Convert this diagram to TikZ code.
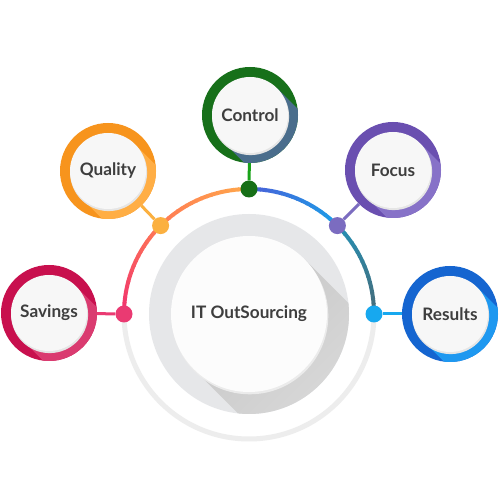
\documentclass[tikz,border=0pt]{standalone}
\usepackage{fontspec}
\setmainfont{Lato}
\usetikzlibrary{calc}
\definecolor{savD}{HTML}{C8104E}\definecolor{savL}{HTML}{DA3B70}
\definecolor{quaD}{HTML}{F7941D}\definecolor{quaL}{HTML}{FFAE45}
\definecolor{conD}{HTML}{17701A}\definecolor{conL}{HTML}{4A6D8C}
\definecolor{focD}{HTML}{6A4FB0}\definecolor{focL}{HTML}{8772C8}
\definecolor{resD}{HTML}{1565D0}\definecolor{resL}{HTML}{1E98F0}
\definecolor{savDot}{HTML}{EA3A72}\definecolor{quaDot}{HTML}{FBB040}
\definecolor{conDot}{HTML}{176F17}\definecolor{focDot}{HTML}{7B6CC0}
\definecolor{resDot}{HTML}{17A8EF}
\definecolor{conLine}{HTML}{19A319}
\definecolor{arcA}{HTML}{F0306E}\definecolor{arcB}{HTML}{FF7A55}
\definecolor{arcC}{HTML}{FFA84A}\definecolor{arcD}{HTML}{4A5FD8}
\definecolor{arcE}{HTML}{1AA0E8}\definecolor{arcF}{HTML}{2490B5}
\definecolor{arcG}{HTML}{476B78}
\definecolor{txt}{HTML}{3E3E3E}
\definecolor{ringGray}{HTML}{EDEDED}
\definecolor{discGray}{HTML}{E6E7E9}
\definecolor{innerW}{HTML}{F7F7F7}
\tikzset{
  sat/.style={circle, minimum size=96pt, inner sep=0pt},
  inner/.style={circle, minimum size=76pt, inner sep=0pt, fill=innerW, text=txt,
    font=\fontsize{17.2}{20}\selectfont\bfseries},
  dot/.style={circle, minimum size=17pt, inner sep=0pt},
  conn/.style={line width=3pt},
}
\newcommand{\satdecor}[2]{%
  \begin{scope}
    \clip (#1) circle (48);
    \fill[#2] ($(#1)+(45:38)$) -- ($(#1)+(225:38)$) -- ++(-45:130) -- ($(#1)+(45:38)+(-45:130)$) -- cycle;
  \end{scope}
  \fill[black!10] ($(#1)+(0.6,-1.6)$) circle (38.5);
}
\begin{document}
\begin{tikzpicture}[x=1pt,y=1pt]
\fill[white] (0,0) rectangle (500,500);
\useasboundingbox (0,0) rectangle (500,500);
\coordinate (C) at (249,186);
% lower gray ring
\draw[ringGray, line width=5pt] ([shift={(180:125)}]C) arc[start angle=180, end angle=360, radius=125];
% colored arc
\foreach \a/\b/\ca/\cb in {180/135/arcA/arcB, 135/90/arcB/arcC, 90/45/arcD/arcE, 45/0/arcF/arcG} {
  \foreach \i in {0,...,17} {
    \pgfmathsetmacro\s{\a+(\b-\a)*\i/18}
    \pgfmathsetmacro\e{\a+(\b-\a)*(\i+1)/18-0.4}
    \pgfmathtruncatemacro\p{100*(\i+0.5)/18}
    \draw[line width=4pt, draw=\cb!\p!\ca] ([shift={(\s:125)}]C) arc[start angle=\s, end angle=\e, radius=125];
  }
}
% center
\fill[discGray] (C) circle (100);
\begin{scope}
  \clip (C) circle (100);
  \shade[top color=black!22, bottom color=black!10, shading angle=45]
    ($(C)+(45:78)$) -- ($(C)+(225:78)$) -- ++(-45:200) -- ($(C)+(45:78)+(-45:200)$) -- cycle;
\end{scope}
\fill[black!8] ($(C)+(0.8,-1.8)$) circle (78.5);
\node[circle, minimum size=156pt, inner sep=0pt, fill=white!60!innerW, text=txt,
  font=\fontsize{17.2}{20}\selectfont\bfseries] (center) at (C) {IT OutSourcing};
% dots
\node[dot, fill=savDot] (dS) at ($(C)+(180:125)$) {};
\node[dot, fill=quaDot] (dQ) at ($(C)+(135:125)$) {};
\node[dot, fill=conDot] (dK) at ($(C)+(90:125)$) {};
\node[dot, fill=focDot] (dF) at ($(C)+(45:125)$) {};
\node[dot, fill=resDot] (dR) at ($(C)+(0:125)$) {};
% satellites
\node[sat, fill=savD] (S) at (49,187) {};
\node[sat, fill=quaD] (Q) at (108,329) {};
\node[sat, fill=conD] (K) at (250,385) {};
\node[sat, fill=focD] (F) at (393,330) {};
\node[sat, fill=resD] (R) at (450,186) {};
\satdecor{S}{savL}
\satdecor{Q}{quaL}
\satdecor{K}{conL}
\satdecor{F}{focL}
\satdecor{R}{resL}
\node[inner] (St) at (S) {Savings};
\node[inner] (Qt) at (Q) {Quality};
\node[inner] (Kt) at (K) {Control};
\node[inner] (Ft) at (F) {Focus};
\node[inner] (Rt) at (R) {Results};
% connectors
\draw[conn, savDot] (dS) -- (S);
\draw[conn, quaDot] (dQ) -- (Q);
\draw[conn, conLine] (dK) -- (K);
\draw[conn, focDot] (dF) -- (F);
\draw[conn, resDot] (dR) -- (R);
\end{tikzpicture}
\end{document}
